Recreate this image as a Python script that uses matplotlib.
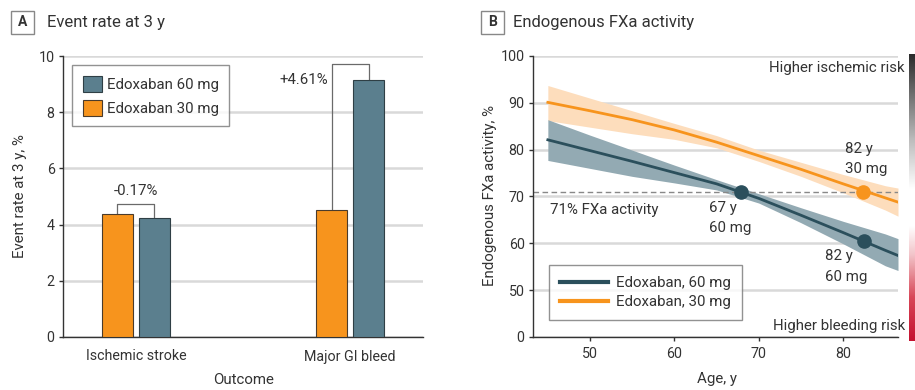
import numpy as np
import matplotlib
matplotlib.use('Agg')
import matplotlib.pyplot as plt
from matplotlib.patches import Rectangle
from matplotlib.colors import LinearSegmentedColormap

# ---------------- Panel A data ----------------
outcomes = ['Ischemic stroke', 'Major GI bleed']
rate_30mg = [4.38, 4.52]
rate_60mg = [4.22, 9.13]
diff_labels = ['-0.17%', '+4.61%']
bracket_top = [4.73, 9.70]

# ---------------- Panel B data ----------------
age = [45, 50, 55, 60, 65, 70, 75, 80, 85, 86.5]
fxa_60 = [82.1, 79.8, 77.5, 75.1, 72.7, 69.6, 66.0, 62.3, 58.5, 57.4]
fxa_60_lo = [77.7, 76.0, 74.3, 72.9, 71.4, 68.6, 64.4, 59.9, 55.2, 54.2]
fxa_60_hi = [86.4, 83.1, 79.9, 76.7, 73.6, 70.6, 67.6, 64.7, 62.0, 61.0]
fxa_30 = [90.1, 88.3, 86.4, 84.2, 81.6, 78.7, 75.8, 72.7, 69.7, 68.8]
fxa_30_lo = [86.2, 84.8, 83.4, 82.2, 80.4, 77.5, 74.3, 70.8, 67.1, 65.8]
fxa_30_hi = [93.7, 91.0, 88.3, 85.6, 83.0, 79.9, 77.3, 74.7, 72.3, 71.8]
threshold = 71
pts60_age = [67.9, 82.5]
pts60_val = [71, 60.5]
pts60_lab = ['67 y\n60 mg', '82 y\n60 mg']
pts30_age = [82.4]
pts30_val = [71]
pts30_lab = ['82 y\n30 mg']
yticks_b = [0, 50, 60, 70, 80, 90, 100]
xticks_b = [50, 60, 70, 80]

# ---------------- style ----------------
FONT = 'Roboto'
plt.rcParams['font.family'] = [FONT, 'DejaVu Sans']
TXT = '#333333'
ORANGE = '#F7941D'
TEAL_BAR = '#5B7F8E'
TEAL_LINE = '#2B4F5C'
GRID = '#d9d9d9'
FS = 10.3
FL = 10.8

W, H = 915, 390
fig = plt.figure(figsize=(W / 100, H / 100), dpi=100)


def fx(x):
    return x / W


def fy(y):
    return 1 - y / H


def style_axes(ax):
    for s in ['top', 'right']:
        ax.spines[s].set_visible(False)
    for s in ['left', 'bottom']:
        ax.spines[s].set_color(TXT)
        ax.spines[s].set_linewidth(1.0)
    ax.tick_params(colors=TXT, labelsize=FS, width=1.0, length=3)
    ax.yaxis.grid(True, color=GRID, lw=1.8)
    ax.set_axisbelow(True)


# ---------------- Panel A ----------------
axA = fig.add_axes([fx(63), fy(337), 360 / W, 281 / H])
style_axes(axA)
xs = np.arange(len(outcomes))
off, bw = 0.0865, 0.145
axA.bar(xs - off, rate_30mg, bw, color=ORANGE, edgecolor='#4a3b2c', lw=0.8,
        label='Edoxaban 30 mg', zorder=3)
axA.bar(xs + off, rate_60mg, bw, color=TEAL_BAR, edgecolor='#2f3f45', lw=0.8,
        label='Edoxaban 60 mg', zorder=3)
axA.set_xlim(-0.341, 1.341)
axA.set_ylim(0, 10)
axA.set_yticks(np.arange(0, 11, 2))
axA.set_xticks(xs)
axA.set_xticklabels(outcomes)
axA.tick_params(axis='x', length=0, pad=9)
axA.tick_params(axis='y', pad=3)

for i in range(len(outcomes)):
    x0, x1 = xs[i] - off, xs[i] + off
    axA.plot([x0, x0, x1, x1], [rate_30mg[i], bracket_top[i], bracket_top[i], rate_60mg[i]],
             color='#6a6a6a', lw=0.9, zorder=2)
axA.text(xs[0], bracket_top[0] + 0.45, diff_labels[0], ha='center', va='center',
         fontsize=FL, color=TXT)
axA.text(xs[1] - off - 0.015, rate_60mg[1], diff_labels[1],
         ha='right', va='center', fontsize=FL, color=TXT)

hA, lA = axA.get_legend_handles_labels()
legA = axA.legend(hA[::-1], lA[::-1], loc='upper left', bbox_to_anchor=(fx(72), fy(65)),
                  bbox_transform=fig.transFigure, borderaxespad=0, frameon=True,
                  fancybox=False, edgecolor='#777777', fontsize=FL,
                  handlelength=1.27, handleheight=1.27, handletextpad=0.35,
                  borderpad=0.7, labelspacing=0.55, labelcolor=TXT)
legA.get_frame().set_linewidth(1.0)

fig.text(fx(20), fy(196), 'Event rate at 3 y, %', rotation=90, ha='center', va='center',
         fontsize=FL, color=TXT)
fig.text(fx(244), fy(380), 'Outcome', ha='center', va='center', fontsize=FL, color=TXT)

# ---------------- Panel B ----------------
def fwd(y):
    y = np.asarray(y, dtype=float)
    return np.where(y >= 50, y, 40 + y / 5.0)


def inv(u):
    u = np.asarray(u, dtype=float)
    return np.where(u >= 50, u, (u - 40) * 5.0)


axB = fig.add_axes([fx(533), fy(337), 365 / W, 281 / H])
axB.set_yscale('function', functions=(fwd, inv))
style_axes(axB)
axB.fill_between(age, fxa_30_lo, fxa_30_hi, color='#FDDDBC', lw=0, zorder=2)
axB.fill_between(age, fxa_60_lo, fxa_60_hi, color='#93AAB3', lw=0, zorder=2)
axB.plot(age, fxa_30, color=ORANGE, lw=2.0, zorder=3, label='Edoxaban, 30 mg')
axB.plot(age, fxa_60, color=TEAL_LINE, lw=2.0, zorder=3, label='Edoxaban, 60 mg')
axB.axhline(threshold, color='#888888', lw=1.0, ls=(0, (4, 2.5)), zorder=2.5)
axB.plot(pts60_age, pts60_val, 'o', color=TEAL_LINE, ms=9.5, zorder=4)
axB.plot(pts30_age, pts30_val, 'o', color=ORANGE, ms=9.5, zorder=4)
axB.set_xlim(43.24, 86.5)
axB.set_ylim(0, 100)
axB.set_yticks(yticks_b)
axB.set_xticks(xticks_b)
axB.tick_params(axis='x', pad=4)
axB.tick_params(axis='y', pad=3)

axB.text(45.2, 67.1, '71% FXa activity', ha='left', va='center', fontsize=FL, color=TXT)
lab_off = [(-3.8, -5.6), (-4.6, -5.4)]
for a, v, t, (dx, dy) in zip(pts60_age, pts60_val, pts60_lab, lab_off):
    axB.text(a + dx, v + dy, t, ha='left', va='center', fontsize=FL, color=TXT,
             linespacing=1.6)
for a, v, t in zip(pts30_age, pts30_val, pts30_lab):
    axB.text(a - 2.2, v + 7.0, t, ha='left', va='center', fontsize=FL, color=TXT,
             linespacing=1.6)

fig.text(fx(905), fy(68), 'Higher ischemic risk', ha='right', va='center',
         fontsize=FL, color=TXT)
fig.text(fx(905), fy(326), 'Higher bleeding risk', ha='right', va='center',
         fontsize=FL, color=TXT)

hB, lB = axB.get_legend_handles_labels()
legB = axB.legend(hB[::-1], lB[::-1], loc='upper left', bbox_to_anchor=(fx(549), fy(265)),
                  bbox_transform=fig.transFigure, borderaxespad=0, frameon=True,
                  fancybox=False, edgecolor='#777777', fontsize=FL,
                  handlelength=3.2, handletextpad=0.5, borderpad=0.75,
                  labelspacing=0.33, labelcolor=TXT)
legB.get_frame().set_linewidth(1.0)
for ln in legB.get_lines():
    ln.set_linewidth(3.0)

fig.text(fx(490), fy(196), 'Endogenous FXa activity, %', rotation=90, ha='center',
         va='center', fontsize=FL, color=TXT)
fig.text(fx(717), fy(379), 'Age, y', ha='center', va='center', fontsize=FL, color=TXT)

# risk gradient strip
cax = fig.add_axes([fx(909), fy(341), 10 / W, 287 / H])
cmap = LinearSegmentedColormap.from_list('risk', [
    (0.0, '#C41230'), (0.15, '#D84657'), (0.3, '#F2C4C9'), (0.4, '#FFFFFF'),
    (0.53, '#FFFFFF'), (0.7, '#BDBDBD'), (1.0, '#2B2B2B')])
cax.imshow(np.linspace(0, 1, 256).reshape(-1, 1), cmap=cmap, aspect='auto', origin='lower')
cax.set_axis_off()

# ---------------- panel headers ----------------
for x0, letter, tx, title in [(11, 'A', 47, 'Event rate at 3 y'),
                              (481, 'B', 513, 'Endogenous FXa activity')]:
    fig.add_artist(Rectangle((fx(x0), fy(34)), 23 / W, 23 / H, transform=fig.transFigure,
                             facecolor='white', edgecolor='#888888', lw=1.0))
    fig.text(fx(x0 + 11.5), fy(22.5), letter, ha='center', va='center', fontsize=10,
             fontweight='bold', color=TXT)
    fig.text(fx(tx), fy(23), title, ha='left', va='center', fontsize=12, color=TXT)

fig.savefig('out.png', dpi=100)
